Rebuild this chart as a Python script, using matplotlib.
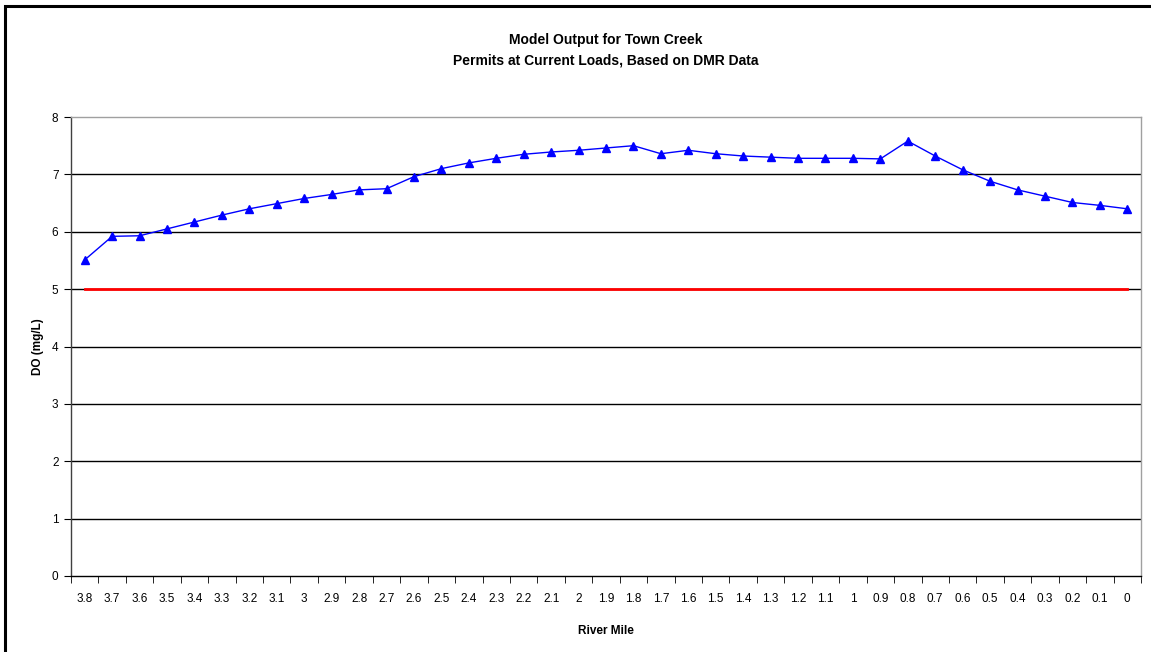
import matplotlib
matplotlib.use("Agg")
from matplotlib import pyplot as plt
from matplotlib.patches import Rectangle

# river mile labels, upstream -> downstream
river_mile=["3.8","3.7","3.6","3.5","3.4","3.3","3.2","3.1","3","2.9","2.8","2.7","2.6",
            "2.5","2.4","2.3","2.2","2.1","2","1.9","1.8","1.7","1.6","1.5","1.4","1.3",
            "1.2","1.1","1","0.9","0.8","0.7","0.6","0.5","0.4","0.3","0.2","0.1","0"]
do_model=[5.51,5.92,5.93,6.05,6.17,6.29,6.40,6.49,6.58,6.65,6.73,6.75,6.96,
          7.10,7.20,7.28,7.35,7.39,7.42,7.46,7.50,7.36,7.42,7.36,7.32,7.30,
          7.28,7.28,7.28,7.27,7.58,7.32,7.08,6.88,6.73,6.62,6.51,6.46,6.40]
do_standard=[5]*len(river_mile)
y_ticks=[0,1,2,3,4,5,6,7,8]

plt.rcParams['font.family']=['Liberation Sans','DejaVu Sans']

fig=plt.figure(figsize=(11.51,6.52),dpi=100)
ax=fig.add_axes([71/1151,1-576/652,(1141-71)/1151,(576-117)/652])

# outer chart border (right/bottom edges fall off the picture)
fig.patches.append(Rectangle((5/1151,-0.05),1.1,1-6/652+0.05,transform=fig.transFigure,
                             fill=False,edgecolor="black",linewidth=2.2))

x=list(range(len(river_mile)))
for y in y_ticks[1:-1]:
    ax.axhline(y,color="black",linewidth=1,zorder=1)
ax.plot(x,do_standard,color="#ff0000",linewidth=2,zorder=2)
ax.plot(x,do_model,color="#0000ff",linewidth=1,marker="^",markersize=6,
        markerfacecolor="#0000ff",markeredgecolor="#0000ff",zorder=3)

ax.set_xlim(-0.5,len(river_mile)-0.5)
ax.set_ylim(0,8)
ax.set_yticks(y_ticks)
ax.set_yticklabels([str(v) for v in y_ticks],fontsize=8.5)
ax.set_xticks(x)
ax.set_xticklabels(river_mile,fontsize=8.5)
ax.tick_params(axis="x",which="major",length=0,pad=12)
ax.set_xticks([i-0.5 for i in range(len(river_mile)+1)],minor=True)
ax.tick_params(axis="x",which="minor",length=5,direction="out",color="black")
ax.tick_params(axis="y",length=5,direction="out",color="black",pad=4)

ax.spines["left"].set_color("#404040")
ax.spines["bottom"].set_color("black")
ax.spines["top"].set_color("#a0a0a0")
ax.spines["right"].set_color("#a0a0a0")
for s in ax.spines.values():
    s.set_linewidth(1)

ax.set_xlabel("River Mile",fontsize=8.5,fontweight="bold",labelpad=15)
ax.set_ylabel("DO (mg/L)",fontsize=8.5,fontweight="bold",labelpad=6)
ax.set_title("Model Output for Town Creek\nPermits at Current Loads, Based on DMR Data",
             fontsize=10,fontweight="bold",pad=38,linespacing=1.6)

fig.savefig("out.png",dpi=100)
